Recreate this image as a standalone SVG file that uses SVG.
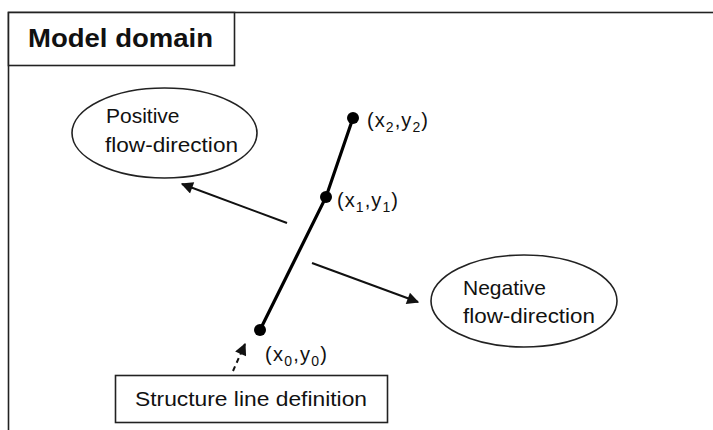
<svg xmlns="http://www.w3.org/2000/svg" width="713" height="430" viewBox="0 0 713 430">
<style>
.frame{fill:#fff;stroke:#222;stroke-width:1.6}
.box{fill:#fff;stroke:#222;stroke-width:1.6}
.ell{fill:#fff;stroke:#222;stroke-width:1.6}
.t{font-family:"Liberation Sans",Arial,sans-serif;font-size:21px;fill:#111}
.c{font-family:"Liberation Sans",Arial,sans-serif;font-size:20px;fill:#111}
.s{font-size:14px}
.arr{stroke:#111;stroke-width:2;fill:none}
</style>
<defs>
<marker id="ahb" viewBox="0 0 10 10" refX="9" refY="5" markerWidth="14" markerHeight="12" markerUnits="userSpaceOnUse" orient="auto">
<path d="M0,0 L10,5 L0,10 z" fill="#111"/>
</marker>
</defs>
<rect width="713" height="430" fill="#fff"/>
<g id="domain">
<rect class="frame" x="8.5" y="12.5" width="712" height="430"/>
<rect class="box" x="8.5" y="12.5" width="226" height="53"/>
<text x="28" y="47" font-family="'Liberation Sans',Arial,sans-serif" font-size="25" font-weight="bold" fill="#111" textLength="185" lengthAdjust="spacingAndGlyphs">Model domain</text>
</g>
<g id="positive">
<ellipse class="ell" cx="164.5" cy="133" rx="92.5" ry="45"/>
<text class="t" x="106" y="123">Positive</text>
<text class="t" x="105" y="152" textLength="133" lengthAdjust="spacingAndGlyphs">flow-direction</text>
</g>
<g id="negative">
<ellipse class="ell" cx="524" cy="301" rx="93" ry="46"/>
<text class="t" x="463" y="295">Negative</text>
<text class="t" x="463" y="323" textLength="132" lengthAdjust="spacingAndGlyphs">flow-direction</text>
</g>
<g id="structure-def">
<rect class="box" x="115.5" y="375.5" width="272" height="47"/>
<text class="t" x="135" y="406" textLength="232" lengthAdjust="spacingAndGlyphs">Structure line definition</text>
</g>
<g id="structure-line">
<polyline points="353,118 326,197 260,330" fill="none" stroke="#000" stroke-width="3.2"/>
<circle cx="353" cy="118" r="6" fill="#000"/>
<circle cx="326" cy="197" r="6" fill="#000"/>
<circle cx="260" cy="330" r="6" fill="#000"/>
</g>
<g id="labels">
<text class="c" x="367" y="127" textLength="61">(x<tspan class="s" dy="5">2</tspan><tspan dy="-5">,y</tspan><tspan class="s" dy="5">2</tspan><tspan dy="-5">)</tspan></text>
<text class="c" x="337" y="207" textLength="61">(x<tspan class="s" dy="5">1</tspan><tspan dy="-5">,y</tspan><tspan class="s" dy="5">1</tspan><tspan dy="-5">)</tspan></text>
<text class="c" x="265" y="361" textLength="62">(x<tspan class="s" dy="5">0</tspan><tspan dy="-5">,y</tspan><tspan class="s" dy="5">0</tspan><tspan dy="-5">)</tspan></text>
</g>
<g id="connectors">
<line class="arr" x1="287" y1="223" x2="182" y2="184" marker-end="url(#ahb)"/>
<line class="arr" x1="312" y1="263" x2="418" y2="302" marker-end="url(#ahb)"/>
<line class="arr" x1="233" y1="371" x2="245" y2="344" stroke-dasharray="5,4" marker-end="url(#ahb)"/>
</g>
</svg>
